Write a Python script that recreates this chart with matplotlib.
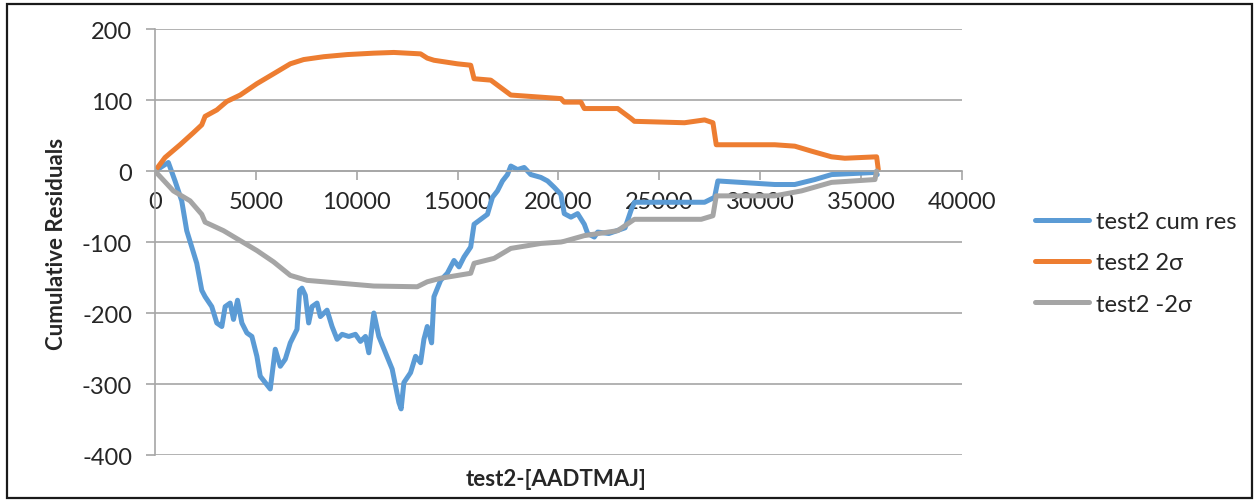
import numpy as np
import matplotlib.pyplot as plt
from matplotlib.patches import Rectangle

plt.rcParams['font.family'] = ['Lato', 'DejaVu Sans']
plt.rcParams['axes.unicode_minus'] = False

# cumulative residuals vs AADTMAJ
cum_x = [0, 662, 994, 1325, 1573, 1822, 2070, 2318, 2484, 2815, 3064, 3312, 3478,
         3726, 3892, 4091, 4306, 4554, 4803, 5051, 5217, 5465, 5713, 5962, 6210,
         6458, 6707, 7039, 7172, 7287, 7452, 7618, 7783, 8032, 8197, 8529, 8777,
         9026, 9274, 9605, 9936, 10184, 10433, 10598, 10847, 11095, 11426, 11757,
         12088, 12200, 12337, 12668, 12916, 13164, 13330, 13496, 13711, 13827,
         14158, 14490, 14821, 15070, 15318, 15649, 15815, 16146, 16478, 16727,
         16975, 17224, 17472, 17638, 17969, 18300, 18630, 19127, 19458, 19789,
         20120, 20286, 20617, 20948, 21280, 21446, 21776, 21941, 22500, 23300,
         23600, 23763, 27241, 27737, 27900, 30718, 31712, 32706, 33534, 35686,
         35800]
cum_y = [0, 12, -14, -42, -84, -107, -130, -168, -177, -191, -214, -219, -191,
         -186, -209, -182, -214, -228, -233, -261, -289, -298, -307, -251, -275,
         -265, -242, -223, -168, -165, -175, -214, -191, -186, -205, -196, -219,
         -237, -230, -233, -230, -240, -233, -256, -200, -233, -256, -279,
         -326, -335, -298, -284, -261, -270, -237, -219, -242, -177,
         -154, -144, -126, -135, -121, -107, -75, -68, -61, -37,
         -28, -14, -5, 7, 2, 5, -5, -9, -14, -23,
         -33, -60, -65, -60, -75, -88, -93, -86, -88, -80,
         -55, -44, -44, -37, -14, -19, -19, -12, -5, -2,
         -5]

# upper band (+2 sigma)
up_x = [0, 497, 1242, 1904, 2318, 2484, 3064, 3560, 4223, 5050, 5880, 6707, 7370,
        8363, 9522, 10847, 11840, 13165, 13496, 13828, 14987, 15650, 15815,
        16643, 17306, 17637, 19128, 20120, 20285, 21113, 21279, 22935, 23597,
        23763, 26247, 27241, 27655, 27820, 30718, 31712, 32540, 33534, 34196,
        35769, 35852]
up_y = [0, 19, 37, 54, 65, 77, 86, 98, 107, 123, 137, 151, 157,
        161, 164, 166, 167, 165, 159, 156, 151, 149, 130,
        128, 114, 107, 104, 102, 97, 97, 88, 88, 74,
        70, 68, 72, 68, 37, 37, 35, 28, 20, 18,
        20, 2]

# lower band (-2 sigma)
lo_x = [0, 911, 1739, 2318, 2484, 3395, 4223, 5050, 5880, 6707, 7535, 9191,
        10847, 13000, 13496, 14158, 15650, 15815, 16809, 17637, 19128, 20120,
        20285, 21279, 22935, 23763, 27075, 27655, 27820, 30718, 32043, 33534,
        35686, 35769]
lo_y = [0, -28, -42, -61, -72, -84, -98, -112, -128, -147, -154, -158,
        -162, -163, -156, -151, -144, -130, -123, -109, -102, -100,
        -99, -91, -84, -68, -68, -63, -35, -35, -28, -16,
        -12, 0]

xticks = np.arange(0, 40001, 5000)
yticks = np.arange(-400, 201, 100)

fig = plt.figure(figsize=(12.57, 5.02), dpi=100)
ax = fig.add_axes([0.1233, 0.0916, 0.642, 0.8486])

ax.plot(cum_x, cum_y, color='#5B9BD5', lw=3.6, label='test2 cum res', solid_capstyle='round')
ax.plot(up_x, up_y, color='#ED7D31', lw=3.6, label='test2 2σ', solid_capstyle='round')
ax.plot(lo_x, lo_y, color='#A5A5A5', lw=3.6, label='test2 -2σ', solid_capstyle='round')

ax.set_xlim(0, 40000)
ax.set_ylim(-400, 200)
ax.set_xticks(xticks)
ax.set_yticks(yticks)
ax.grid(axis='y', color='#a6a6a6', lw=1.2)
ax.set_axisbelow(True)

for s in ['top', 'right']:
    ax.spines[s].set_visible(False)
ax.spines['bottom'].set_position(('data', 0))
for s in ['bottom', 'left']:
    ax.spines[s].set_color('#a6a6a6')
    ax.spines[s].set_linewidth(1.2)
ax.tick_params(axis='both', colors='#a6a6a6', labelcolor='#262626', labelsize=17,
               length=6.5, width=1.2)
ax.tick_params(axis='y', pad=10)
ax.tick_params(axis='x', pad=8)

fig.text(0.0446, 0.515, 'Cumulative Residuals', rotation=90, ha='center', va='center',
         fontsize=16, fontweight='bold', color='#262626')
fig.text(0.4427, 0.044, 'test2-[AADTMAJ]', ha='center', va='center',
         fontsize=16, fontweight='bold', color='#262626')

leg = ax.legend(loc='center left', bbox_to_anchor=(1035 / 1257, 1 - 264 / 502),
                bbox_transform=fig.transFigure, frameon=False, fontsize=17,
                handlelength=2.3, labelspacing=0.85, handletextpad=0.3,
                borderpad=0, borderaxespad=0)
for t in leg.get_texts():
    t.set_color('#262626')

fig.patches.append(Rectangle((7 / 1257, 0.006), 1245 / 1257, 0.984, transform=fig.transFigure,
                             fill=False, edgecolor='#1a1a1a', lw=1.6))

fig.savefig('out.png', dpi=100)
